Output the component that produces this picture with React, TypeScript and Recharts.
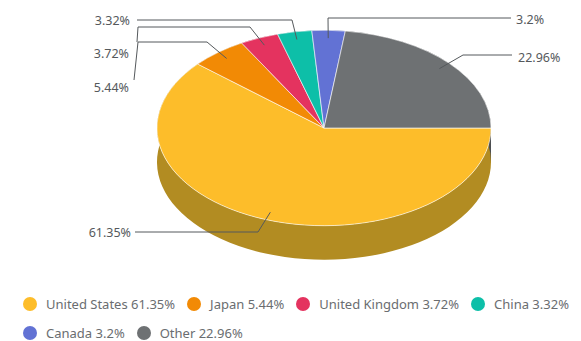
import React from 'react';
import { PieChart, Pie, Cell, Legend } from 'recharts';

const countries = ['United States', 'Japan', 'United Kingdom', 'China', 'Canada', 'Other'];
const shares = [61.35, 5.44, 3.72, 3.32, 3.2, 22.96];
const topColors = ['#fdbd2a', '#f28a05', '#e4335f', '#0dbfa8', '#6272d4', '#6e7173'];
const sideColors = ['#b28c22', '#a96104', '#a02443', '#098676', '#454f94', '#4d4f51'];

// Leader routes per slice, from the label to the elbow next to the pie.
const leaderRoutes: number[][][] = [
  [[135, 232], [258, 232]],
  [[134, 80], [138, 42], [207, 42]],
  [[137, 42], [138, 27], [250, 27]],
  [[137, 20], [292, 20]],
  [[511, 18], [328, 18]],
  [[512, 55], [463, 55]],
];
const labelAnchors: [number, number, string][] = [
  [131, 232, 'end'],
  [129, 87, 'end'],
  [129, 53, 'end'],
  [130, 20, 'end'],
  [516, 19, 'start'],
  [518, 57, 'start'],
];

const W = 581;
const H = 341;
const CX = 324;
const CY = 128;
const RX = 167;
const SQUASH = 0.585;
const DEPTH = 34;
const FONT = '"Noto Sans", "Open Sans", sans-serif';

const rows = countries.map((name, i) => ({ name, value: shares[i] }));

const rad = (deg: number) => (deg * Math.PI) / 180;

// point on the flattened rim; recharts angles run counter-clockwise from east
const rim = (cx: number, cy: number, r: number, deg: number) => ({
  x: cx + r * Math.cos(rad(deg)),
  y: cy - r * SQUASH * Math.sin(rad(deg)),
});

const TopSlice = (props: any) => {
  const { cx, cy, outerRadius: r, startAngle, endAngle, fill } = props;
  const a = rim(cx, cy, r, startAngle);
  const b = rim(cx, cy, r, endAngle);
  const large = Math.abs(endAngle - startAngle) > 180 ? 1 : 0;
  const d = `M${cx},${cy} L${a.x},${a.y} A${r},${r * SQUASH} 0 ${large} 1 ${b.x},${b.y} Z`;
  return <path d={d} fill={fill} stroke="#ffffff" strokeOpacity={0.6} strokeWidth={1} />;
};

// the wall under a slice, only its front half shows below the top face
const SideWall = (props: any) => {
  const { cx, cy, outerRadius: r, startAngle, endAngle, fill } = props;
  const a = rim(cx, cy, r, startAngle);
  const b = rim(cx, cy, r, endAngle);
  const large = Math.abs(endAngle - startAngle) > 180 ? 1 : 0;
  const ry = r * SQUASH;
  const d =
    `M${a.x},${a.y} A${r},${ry} 0 ${large} 1 ${b.x},${b.y} ` +
    `L${b.x},${b.y + DEPTH} A${r},${ry} 0 ${large} 0 ${a.x},${a.y + DEPTH} Z`;
  return <path d={d} fill={fill} />;
};

const LeaderLabel = (props: any) => {
  const { index, cx, cy, outerRadius: r, midAngle } = props;
  const tip = rim(cx, cy, r * 0.92, midAngle);
  const route = [...leaderRoutes[index], [tip.x, tip.y]];
  const [tx, ty, anchor] = labelAnchors[index];
  return (
    <g>
      <polyline
        points={route.map((p) => p.join(',')).join(' ')}
        fill="none"
        stroke="#55595c"
        strokeWidth={1}
      />
      <text
        x={tx}
        y={ty}
        textAnchor={anchor as any}
        dominantBaseline="central"
        fontSize={12.5}
        fontFamily={FONT}
        fill="#55595c"
      >
        {shares[index]}%
      </text>
    </g>
  );
};

const LegendRows = () => (
  <div
    style={{
      display: 'flex',
      flexWrap: 'wrap',
      columnGap: 12,
      rowGap: 13,
      paddingLeft: 23,
      fontFamily: FONT,
      fontSize: 13,
      lineHeight: '16px',
      color: '#6a6d70',
    }}
  >
    {countries.map((name, i) => (
      <span key={name} style={{ display: 'flex', alignItems: 'center', whiteSpace: 'nowrap' }}>
        <span
          style={{
            width: 14,
            height: 14,
            borderRadius: '50%',
            background: topColors[i],
            marginRight: 9,
          }}
        />
        {name} {shares[i]}%
      </span>
    ))}
  </div>
);

export default function App() {
  return (
    <div style={{ position: 'absolute', left: 0, top: 0 }}>
      <PieChart width={W} height={H} margin={{ top: 0, right: 0, bottom: 0, left: 0 }}>
        <Pie
          data={rows}
          dataKey="value"
          cx={CX}
          cy={CY}
          outerRadius={RX}
          startAngle={0}
          endAngle={-360}
          stroke="none"
          shape={SideWall}
          isAnimationActive={false}
          legendType="none"
        >
          {rows.map((row, i) => (
            <Cell key={row.name} fill={sideColors[i]} />
          ))}
        </Pie>
        <Pie
          data={rows}
          dataKey="value"
          cx={CX}
          cy={CY}
          outerRadius={RX}
          startAngle={0}
          endAngle={-360}
          shape={TopSlice}
          label={LeaderLabel}
          labelLine={false}
          isAnimationActive={false}
        >
          {rows.map((row, i) => (
            <Cell key={row.name} fill={topColors[i]} />
          ))}
        </Pie>
        <Legend
          content={<LegendRows />}
          layout="horizontal"
          verticalAlign="bottom"
          wrapperStyle={{ left: 0, width: W, top: 296 }}
        />
      </PieChart>
    </div>
  );
}
